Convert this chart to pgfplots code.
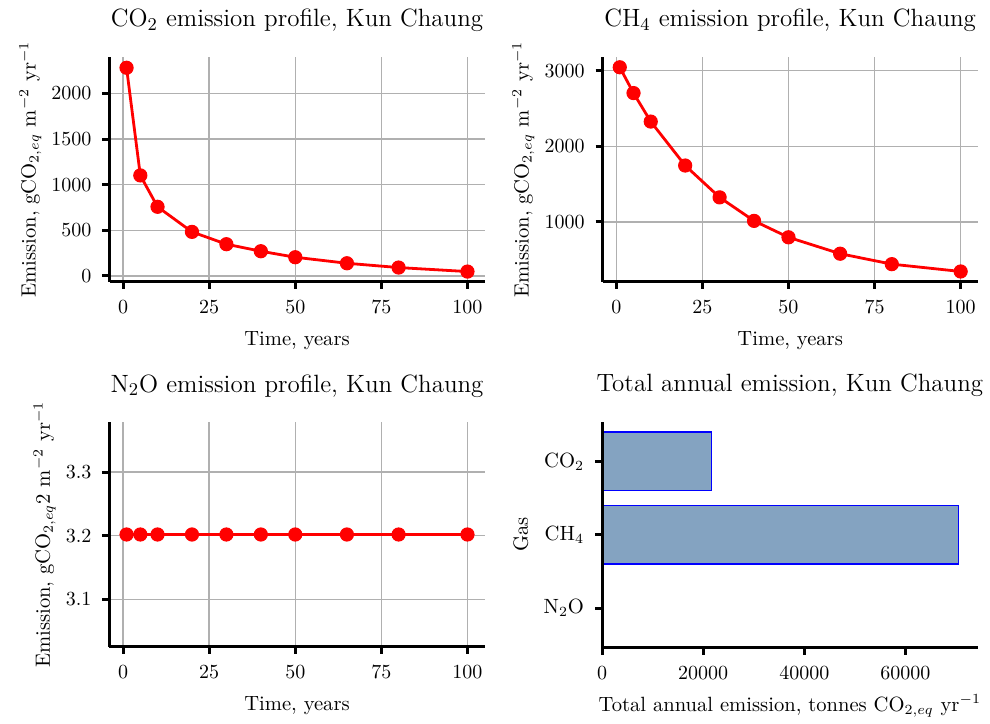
\documentclass[border=0pt]{standalone}
\usepackage{pgfplots}
\pgfplotsset{compat=1.18}
\definecolor{gridgray}{RGB}{176,176,176}
\definecolor{barfill}{RGB}{132,163,193}
\pgfplotsset{
  myax/.style={
    scale only axis, width=187.5pt, height=112.35pt,
    axis x line*=bottom, axis y line*=left,
    axis line style={line width=1.5pt, black},
    tick align=outside, major tick length=3.5pt,
    tick style={line width=1.5pt, black},
    minor tick num=0,
    ticklabel style={font=\fontsize{10.3}{12}\selectfont},
    label style={font=\fontsize{10.3}{12}\selectfont},
    title style={font=\fontsize{12.5}{15}\selectfont, at={(axis description cs:0.5,1)}, anchor=base, yshift=9pt},
    xticklabel style={anchor=base, yshift=-12.3pt},
    yticklabel style={anchor=east, inner sep=0pt, xshift=-5.3pt},
    xlabel style={at={(axis description cs:0.5,-0.2822)}, anchor=base},
    ylabel style={at={(axis description cs:-0.1973,0.5)}, anchor=base},
    /pgf/number format/1000 sep={},
    scaled ticks=false,
  },
  lineax/.style={myax, xmin=-3.95, xmax=104.95, xtick={0,25,50,75,100},
    grid=major, grid style={gridgray, line width=0.7pt}, xlabel={Time, years}},
  redline/.style={red, line width=1.4pt, mark=*, mark size=3.3pt, mark options={solid, fill=red, draw=red, line width=0.5pt}}
}
\begin{document}
\begin{tikzpicture}
\useasboundingbox (0,0) rectangle (495pt,361.5pt);
% Panel 1: CO2
\begin{axis}[lineax, at={(54.75pt,220.65pt)}, anchor=south west,
  ymin=-63, ymax=2400, ytick={0,500,1000,1500,2000},
  title={CO$_2$ emission profile, Kun Chaung},
  ylabel={Emission, gCO$_{2,eq}$ m$^{-2}$ yr$^{-1}$}]
\addplot[redline] coordinates {(1,2282) (5,1102) (10,758) (20,483) (30,348) (40,271) (50,205) (65,139) (80,92) (100,48)};
\end{axis}
% Panel 2: CH4
\begin{axis}[lineax, at={(301.35pt,220.65pt)}, anchor=south west,
  ymin=209, ymax=3180, ytick={1000,2000,3000},
  title={CH$_4$ emission profile, Kun Chaung},
  ylabel={Emission, gCO$_{2,eq}$ m$^{-2}$ yr$^{-1}$}]
\addplot[redline] coordinates {(1,3044) (5,2703) (10,2326) (20,1745) (30,1324) (40,1013) (50,796) (65,579) (80,441) (100,344)};
\end{axis}
% Panel 3: N2O
\begin{axis}[lineax, at={(54.75pt,38.15pt)}, anchor=south west, height=112.2pt,
  ymin=3.026, ymax=3.378, ytick={3.1,3.2,3.3},
  yticklabel style={/pgf/number format/.cd, fixed, fixed zerofill, precision=1},
  title={N$_2$O emission profile, Kun Chaung},
  ylabel style={at={(axis description cs:-0.159,0.5)}},
  ylabel={Emission, gCO$_{2,eq}$2 m$^{-2}$ yr$^{-1}$}]
\addplot[redline] coordinates {(1,3.202) (5,3.202) (10,3.202) (20,3.202) (30,3.202) (40,3.202) (50,3.202) (65,3.202) (80,3.202) (100,3.202)};
\end{axis}
% Panel 4: totals
\begin{axis}[myax, at={(301pt,37.65pt)}, anchor=south west, width=187.85pt, height=113pt,
  axis on top, xbar, bar width=0.8,
  xmin=0, xmax=74300, ymin=-0.54, ymax=2.54,
  xtick={0,20000,40000,60000}, ytick={0,1,2},
  yticklabels={N$_2$O, CH$_4$, CO$_2$},
  title={Total annual emission, Kun Chaung},
  xlabel style={at={(axis description cs:0.5,-0.2805)}},
  xlabel={Total annual emission, tonnes CO$_{2,eq}$ yr$^{-1}$},
  ylabel={Gas}]
\addplot[fill=barfill, draw=blue, line width=0.75pt] coordinates {(21700,2) (70500,1) (23,0)};
\end{axis}
\end{tikzpicture}
\end{document}
